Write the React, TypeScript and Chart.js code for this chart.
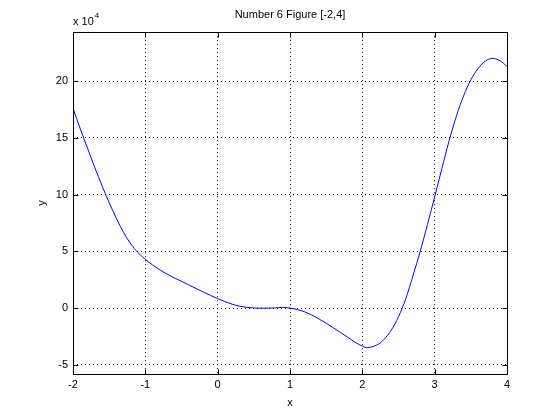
import React, { useEffect, useRef } from "react";
import { Chart, registerables } from "chart.js";

Chart.register(...registerables);

// Data (y in units of 10^4)
const xValues = [
  -2, -1.9, -1.8, -1.7, -1.6, -1.5, -1.4, -1.3, -1.2, -1.1, -1, -0.9, -0.8, -0.7, -0.6, -0.4,
  -0.2, 0, 0.2, 0.3, 0.4, 0.5, 0.6, 0.8, 0.9, 1, 1.1, 1.2, 1.3, 1.4, 1.5, 1.6, 1.7, 1.8, 1.9,
  2, 2.06, 2.15, 2.2, 2.25, 2.3, 2.35, 2.4, 2.45, 2.5, 2.55, 2.6, 2.7, 2.8, 2.9, 3, 3.1, 3.2,
  3.3, 3.4, 3.5, 3.6, 3.7, 3.8, 3.9, 4,
];
const yValues = [
  17.6, 15.8, 14.1, 12.4, 10.8, 9.3, 7.9, 6.65, 5.65, 4.88, 4.3, 3.8, 3.38, 3.0, 2.67, 2.05,
  1.42, 0.84, 0.35, 0.18, 0.07, 0.01, 0.0, 0.02, 0.07, 0.0, -0.12, -0.32, -0.6, -0.95, -1.33, -1.73, -2.15, -2.57, -3.0,
  -3.35, -3.48, -3.38, -3.25, -3.05, -2.75, -2.38, -1.93, -1.4, -0.76, -0.02, 0.82, 2.85, 5.0, 7.35, 9.8, 12.3, 14.75,
  16.9, 18.7, 20.1, 21.1, 21.75, 22.0, 21.8, 21.3,
];
const xTickValues = [-2, -1, 0, 1, 2, 3, 4];
const yTickValues = [-5, 0, 5, 10, 15, 20];
const xLimits = [-2, 4];
const yLimits = [-5.8, 24.3];
const chartTitle = "Number 6 Figure [-2,4]";
const xLabel = "x";
const yLabel = "y";
const exponentBase = "x 10";
const exponentPower = "4";

const FONT = "'Liberation Sans', Arial, Helvetica, sans-serif";

const matlabBox = {
  id: "matlabBox",
  afterDraw(chart: any) {
    const { ctx, chartArea, scales } = chart;
    const { left, top, right, bottom } = chartArea;
    const l = Math.round(left) + 0.5;
    const t = Math.round(top) + 0.5;
    const r = Math.round(right) + 0.5;
    const b = Math.round(bottom) + 0.5;
    ctx.save();
    ctx.setLineDash([]);
    ctx.strokeStyle = "#000";
    ctx.lineWidth = 1;
    ctx.beginPath();
    ctx.rect(l, t, r - l, b - t);
    const L = 5;
    xTickValues.forEach((v) => {
      const px = Math.round(scales.x.getPixelForValue(v)) + 0.5;
      ctx.moveTo(px, b);
      ctx.lineTo(px, b - L);
      ctx.moveTo(px, t);
      ctx.lineTo(px, t + L);
    });
    yTickValues.forEach((v) => {
      const py = Math.round(scales.y.getPixelForValue(v)) + 0.5;
      ctx.moveTo(l, py);
      ctx.lineTo(l + L, py);
      ctx.moveTo(r, py);
      ctx.lineTo(r - L, py);
    });
    ctx.stroke();
    ctx.fillStyle = "#000";
    ctx.textBaseline = "alphabetic";
    ctx.textAlign = "left";
    ctx.font = `11px ${FONT}`;
    ctx.fillText(exponentBase, left, top - 7);
    const w = ctx.measureText(exponentBase).width;
    ctx.font = `8px ${FONT}`;
    ctx.fillText(exponentPower, left + w + 1, top - 14);
    ctx.restore();
  },
};

export default function App() {
  const ref = useRef<HTMLCanvasElement | null>(null);
  useEffect(() => {
    if (!ref.current) return;
    const data = xValues.map((x, i) => ({ x, y: yValues[i] }));
    const chart = new Chart(ref.current, {
      type: "line",
      data: {
        datasets: [
          {
            data,
            borderColor: "#0000ff",
            borderWidth: 1,
            pointRadius: 0,
            fill: false,
            cubicInterpolationMode: "monotone",
          },
        ],
      },
      options: {
        animation: false,
        responsive: false,
        maintainAspectRatio: false,
        layout: { padding: { left: 0, right: 53, top: 0, bottom: 0 } },
        plugins: {
          legend: { display: false },
          tooltip: { enabled: false },
          title: {
            display: true,
            text: chartTitle,
            color: "#000",
            fullSize: false,
            font: { family: FONT, size: 11, weight: "normal" },
            padding: { top: 8, bottom: 11 },
          },
        },
        scales: {
          x: {
            type: "linear",
            min: xLimits[0],
            max: xLimits[1],
            afterBuildTicks: (s: any) => {
              s.ticks = xTickValues.map((v) => ({ value: v }));
            },
            afterFit: (s: any) => {
              s.height = 46;
            },
            ticks: {
              color: "#000",
              font: { family: FONT, size: 11 },
              padding: 4,
              maxRotation: 0,
              autoSkip: false,
            },
            grid: { color: "#000", lineWidth: 1, drawTicks: false },
            border: { display: false, dash: [1, 3] },
            title: {
              display: true,
              text: xLabel,
              color: "#000",
              font: { family: FONT, size: 11 },
              padding: { top: 0, bottom: 10 },
            },
          },
          y: {
            type: "linear",
            min: yLimits[0],
            max: yLimits[1],
            afterBuildTicks: (s: any) => {
              s.ticks = yTickValues.map((v) => ({ value: v }));
            },
            afterFit: (s: any) => {
              s.width = 73;
            },
            ticks: {
              color: "#000",
              font: { family: FONT, size: 11 },
              padding: 5,
              autoSkip: false,
            },
            grid: { color: "#000", lineWidth: 1, drawTicks: false },
            border: { display: false, dash: [1, 3] },
            title: {
              display: true,
              text: yLabel,
              color: "#000",
              font: { family: FONT, size: 11 },
              padding: { top: 35, bottom: 0 },
            },
          },
        },
      },
      plugins: [matlabBox],
    } as any);
    return () => chart.destroy();
  }, []);
  return (
    <div style={{ position: "absolute", left: 0, top: 0, width: 560, height: 420, background: "#fff" }}>
      <canvas ref={ref} width={560} height={420} />
    </div>
  );
}
